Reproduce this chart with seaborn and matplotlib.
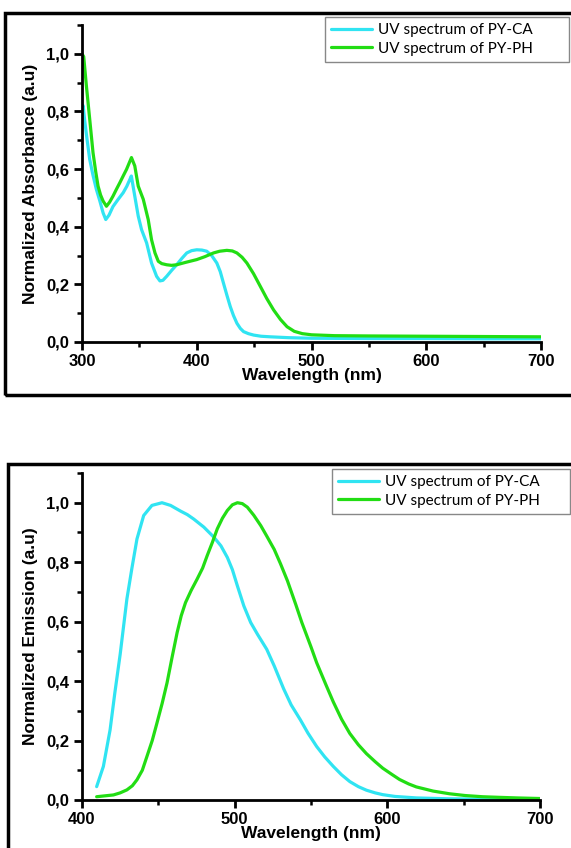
import numpy as np
import pandas as pd
import matplotlib
matplotlib.use("Agg")
import matplotlib.pyplot as plt
from matplotlib.patches import Rectangle
from matplotlib.lines import Line2D
from matplotlib.ticker import MultipleLocator
import seaborn as sns

# ---------------- data ----------------
abs_ca_x = [300, 301, 302.3, 304.5, 306.7, 309.5, 312.5, 315.5, 318.4, 320.7, 323.5, 327, 331.5, 335.9,
            339, 341.7, 343, 346, 349, 351.9, 356.3, 360.6, 365, 367.9, 370.5, 373.8, 378, 382.5, 387,
            391.3, 395.5, 400, 404.5, 408.7, 413, 417.5, 420.5, 423.3, 426.3, 429.2, 432, 435, 438,
            440.8, 445, 449.6, 456, 464, 480, 500, 550, 600, 650, 700]
abs_ca_y = [0.80, 0.82, 0.77, 0.70, 0.634, 0.58, 0.53, 0.49, 0.448, 0.425, 0.44, 0.47, 0.495, 0.518,
            0.54, 0.564, 0.576, 0.506, 0.437, 0.39, 0.344, 0.274, 0.228, 0.212, 0.214, 0.228, 0.248, 0.268, 0.29,
            0.309, 0.317, 0.32, 0.319, 0.315, 0.30, 0.274, 0.244, 0.204, 0.162, 0.123, 0.092, 0.065, 0.047,
            0.036, 0.029, 0.024, 0.020, 0.018, 0.015, 0.013, 0.012, 0.012, 0.011, 0.011]

abs_ph_x = [300, 301.5, 303.8, 306.7, 309.6, 312, 314, 316.2, 318.4, 321.3, 324, 327, 330, 333, 336,
            338.8, 341, 343.1, 346, 349, 353.4, 357.7, 360.6, 363.6, 366.5, 369.5, 373.8, 378, 382.5,
            390, 400, 407, 414.6, 420, 426.2, 431, 435, 439.5, 443.7, 449.5, 455.4, 461, 467, 473,
            478.7, 485, 492, 500, 520, 550, 600, 650, 700]
abs_ph_y = [1.0, 0.99, 0.89, 0.774, 0.657, 0.59, 0.541, 0.51, 0.489, 0.471, 0.485, 0.506, 0.53, 0.553, 0.577,
            0.599, 0.62, 0.64, 0.611, 0.541, 0.495, 0.425, 0.355, 0.309, 0.28, 0.272, 0.268, 0.266, 0.268,
            0.276, 0.286, 0.296, 0.309, 0.315, 0.318, 0.316, 0.309, 0.294, 0.274, 0.237, 0.193, 0.151, 0.111, 0.078,
            0.053, 0.037, 0.029, 0.025, 0.022, 0.021, 0.020, 0.019, 0.018]

em_ca_x = [409.6, 414, 418.4, 421.5, 425, 429.4, 432.7, 436, 440.4, 445.8, 452.4, 458, 464.5, 469, 473.2,
           479.8, 486.4, 491, 495.2, 498.5, 501.8, 506, 510.5, 515, 521, 526, 532, 537, 543, 548,
           553.7, 559, 564.6, 570, 575.4, 581, 586.3, 592, 597, 605, 619, 640, 660, 680, 700]
em_ca_y = [0.045, 0.113, 0.236, 0.36, 0.49, 0.676, 0.78, 0.878, 0.957, 0.991, 1.0, 0.991, 0.972, 0.96, 0.945,
           0.918, 0.884, 0.855, 0.816, 0.775, 0.72, 0.653, 0.597, 0.557, 0.507, 0.45, 0.375, 0.32, 0.27, 0.225,
           0.18, 0.145, 0.113, 0.085, 0.062, 0.045, 0.033, 0.024, 0.018, 0.012, 0.007, 0.004, 0.003, 0.002, 0.002]

em_ph_x = [409.6, 415, 420.6, 425, 429.4, 433, 436, 439.5, 442.5, 446, 449.1, 452.5, 455.7, 459, 462.3,
           465, 467.8, 471.5, 475.4, 479, 482, 485.5, 488.6, 492, 495.2, 498.5, 501.8, 505, 508.3, 512.5,
           517.1, 521, 525.9, 530, 534.6, 540, 544, 550, 553.7, 560, 564.6, 570, 575.4, 581, 586.3, 592,
           597, 603, 608, 614, 619, 630, 640.7, 651, 662.4, 673, 685, 700]
em_ph_y = [0.011, 0.014, 0.017, 0.024, 0.034, 0.048, 0.068, 0.10, 0.146, 0.20, 0.259, 0.325, 0.394, 0.48, 0.563,
           0.62, 0.664, 0.705, 0.743, 0.78, 0.822, 0.868, 0.912, 0.948, 0.974, 0.993, 1.0, 0.997, 0.985, 0.958,
           0.923, 0.888, 0.843, 0.795, 0.737, 0.658, 0.597, 0.515, 0.462, 0.385, 0.33, 0.272, 0.224, 0.186, 0.156, 0.129,
           0.107, 0.086, 0.069, 0.054, 0.044, 0.030, 0.021, 0.015, 0.011, 0.009, 0.007, 0.005]

label_ca = "UV spectrum of PY-CA"
label_ph = "UV spectrum of PY-PH"
yticks = [0.0, 0.2, 0.4, 0.6, 0.8, 1.0]
ytick_labels = ["0,0", "0,2", "0,4", "0,6", "0,8", "1,0"]
top_xticks = [300, 400, 500, 600, 700]
bot_xticks = [400, 500, 600, 700]

# ---------------- style ----------------
sns.set_style("ticks")
plt.rcParams["font.family"] = ["Liberation Sans", "DejaVu Sans"]
plt.rcParams["axes.linewidth"] = 2.0
for k in ["text.color", "axes.labelcolor", "xtick.color", "ytick.color", "axes.edgecolor"]:
    plt.rcParams[k] = "black"

CYAN = "#30E4F2"
GREEN = "#22DD14"

fig = plt.figure(figsize=(5.71, 8.48), dpi=100)
W, H = 571, 848

def fx(px):
    return px / W

def fy(py):
    return 1 - py / H

# outer frames
fig.patches.append(Rectangle((fx(5), fy(395)), fx(600), fy(13) - fy(395), transform=fig.transFigure,
                             fill=False, edgecolor="black", linewidth=2.5, zorder=0))
fig.patches.append(Rectangle((fx(8), fy(900)), fx(600), fy(464) - fy(900), transform=fig.transFigure,
                             fill=False, edgecolor="black", linewidth=2.5, zorder=0))

ax1 = fig.add_axes([fx(82), fy(342), fx(541) - fx(82), fy(25) - fy(342)])
ax2 = fig.add_axes([fx(82), fy(800), fx(540) - fx(82), fy(473) - fy(800)])

df_abs = pd.concat([
    pd.DataFrame({"x": abs_ca_x, "y": abs_ca_y, "s": label_ca}),
    pd.DataFrame({"x": abs_ph_x, "y": abs_ph_y, "s": label_ph}),
])
df_em = pd.concat([
    pd.DataFrame({"x": em_ca_x, "y": em_ca_y, "s": label_ca}),
    pd.DataFrame({"x": em_ph_x, "y": em_ph_y, "s": label_ph}),
])

pal = {label_ca: CYAN, label_ph: GREEN}

for ax, df in [(ax1, df_abs), (ax2, df_em)]:
    sns.lineplot(data=df, x="x", y="y", hue="s", palette=pal, ax=ax, linewidth=2.3,
                 sort=False, estimator=None, legend=False, solid_joinstyle="round")

def style(ax, xlim, xticks, ylabel):
    ax.set_xlim(*xlim)
    ax.set_ylim(0, 1.1)
    ax.set_facecolor("none")
    sns.despine(ax=ax)
    ax.set_xticks(xticks)
    ax.set_xticklabels([str(t) for t in xticks], fontsize=12, fontweight="bold")
    ax.set_yticks(yticks)
    ax.set_yticklabels(ytick_labels, fontsize=12, fontweight="bold")
    ax.xaxis.set_minor_locator(MultipleLocator(50))
    ax.yaxis.set_minor_locator(MultipleLocator(0.1))
    ax.tick_params(which="major", direction="out", length=6, width=2, pad=3)
    ax.tick_params(which="minor", direction="out", length=3.5, width=1.8)
    ax.set_xlabel("Wavelength (nm)", fontsize=12.5, fontweight="bold", labelpad=-1)
    ax.set_ylabel(ylabel, fontsize=12.5, fontweight="bold", labelpad=6)
    ax.grid(False)

style(ax1, (300, 700), top_xticks, "Normalized Absorbance (a.u)")
style(ax2, (400, 700), bot_xticks, "Normalized Emission (a.u)")

handles = [Line2D([], [], color=CYAN, linewidth=2.3), Line2D([], [], color=GREEN, linewidth=2.3)]

for (x0, y0, x1, y1) in [(325, 17, 569, 62), (332, 469, 570, 517)]:
    leg = fig.legend(handles, [label_ca, label_ph], loc="upper left",
                     bbox_to_anchor=(fx(x0), fy(y1), fx(x1) - fx(x0), fy(y0) - fy(y1)),
                     bbox_transform=fig.transFigure, mode="expand", borderaxespad=0,
                     frameon=True, fancybox=False, framealpha=1, edgecolor="#888888",
                     prop={"family": "Lato", "size": 11}, handlelength=2.7, handletextpad=0.35,
                     labelspacing=0.3, borderpad=0.4)
    leg.get_frame().set_linewidth(1.0)
    for t in leg.get_texts():
        t.set_color("black")

fig.savefig("out.png", dpi=100)
